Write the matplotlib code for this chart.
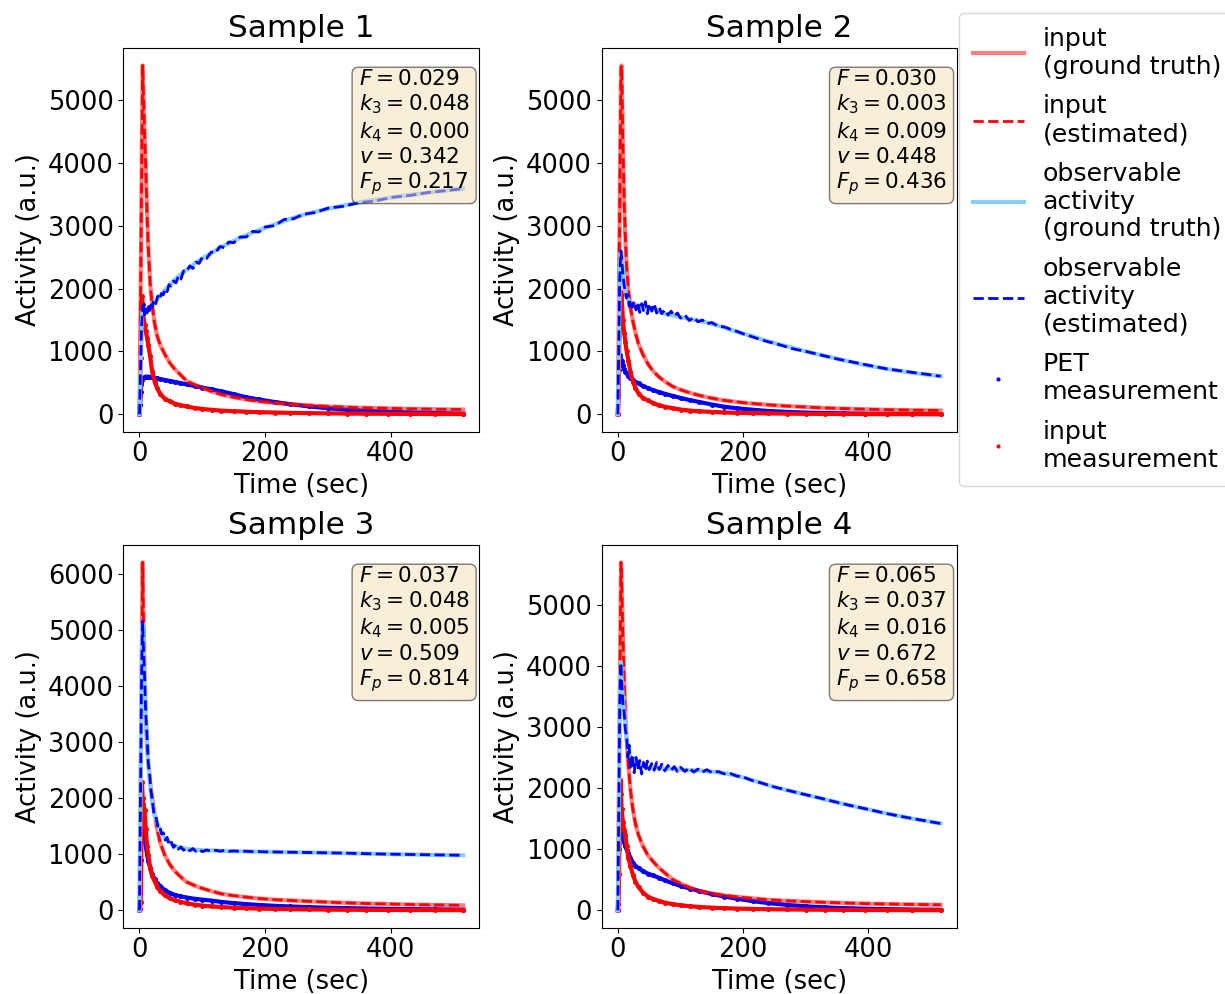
import matplotlib
matplotlib.use("Agg")
import matplotlib.pyplot as plt
from matplotlib.lines import Line2D

# ---------------- data ----------------
# coarse time grid (sec) for inputs, ground-truth activity and measurements
t = [0, 1, 2, 3, 4, 5, 6, 8, 10, 12, 14, 17, 20, 24, 28, 33, 40, 48, 56, 65,
     75, 88, 100, 115, 130, 150, 170, 190, 215, 240, 270, 300, 330, 360, 395,
     430, 470, 515]
# finer time grid (sec) for the (noisy) estimated observable activity
t_obs = [0, 1, 2, 3, 4, 5, 6, 7, 8, 10, 12, 14, 16, 18, 20, 23, 26, 29, 32, 35,
         38, 41, 44, 47, 50, 54, 58, 62, 66, 70, 75, 80, 85, 90, 95, 100, 107,
         114, 121, 128, 135, 142, 150, 160, 170, 180, 190, 200, 215, 230, 245,
         260, 280, 300, 325, 350, 375, 400, 430, 460, 490, 515]

sample_titles = ["Sample 1", "Sample 2", "Sample 3", "Sample 4"]
param_F = [0.029, 0.030, 0.037, 0.065]
param_k3 = [0.048, 0.003, 0.048, 0.037]
param_k4 = [0.000, 0.009, 0.005, 0.016]
param_v = [0.342, 0.448, 0.509, 0.672]
param_Fp = [0.217, 0.436, 0.814, 0.658]

# Sample 1
s1_input = [0, 1100, 2200, 3300, 4450, 5550, 5200, 4500, 3900, 3200, 2650, 2080,
            1750, 1450, 1250, 1100, 960, 820, 720, 630, 530, 470, 420, 360, 315,
            270, 235, 205, 180, 160, 140, 125, 112, 102, 94, 87, 80, 75]
s1_input_meas = [0, 300, 900, 1500, 1880, 1750, 1600, 1420, 1320, 1220, 1100, 920,
                 690, 520, 420, 320, 250, 205, 170, 145, 125, 100, 85, 70, 58, 48,
                 40, 33, 27, 22, 18, 14, 11, 9, 7, 5, 4, 3]
s1_pet_meas = [0, 150, 350, 480, 540, 570, 580, 590, 600, 600, 600, 595, 590, 580,
               570, 560, 545, 530, 515, 495, 475, 450, 425, 395, 365, 320, 270,
               235, 195, 160, 125, 95, 72, 54, 40, 28, 18, 10]
s1_obs_true = [0, 400, 900, 1300, 1550, 1650, 1680, 1660, 1650, 1660, 1680, 1710,
               1740, 1780, 1830, 1890, 1970, 2060, 2140, 2220, 2300, 2400, 2480,
               2570, 2660, 2760, 2850, 2930, 3020, 3110, 3200, 3270, 3330, 3390,
               3440, 3490, 3540, 3590]
s1_obs_est = [0, 420, 850, 1350, 1500, 1720, 1600, 1750, 1580, 1720, 1610, 1750,
              1650, 1780, 1700, 1820, 1760, 1880, 1830, 1920, 1900, 1990, 1950,
              2060, 2040, 2120, 2090, 2200, 2150, 2280, 2270, 2360, 2320, 2420,
              2400, 2500, 2480, 2580, 2570, 2670, 2650, 2740, 2730, 2820, 2820,
              2910, 2900, 2980, 3000, 3100, 3110, 3180, 3210, 3280, 3310, 3370,
              3390, 3450, 3480, 3530, 3560, 3590]

# Sample 2
s2_input = [0, 1100, 2200, 3300, 4400, 5500, 5550, 4300, 3400, 2800, 2350, 1950,
            1700, 1480, 1300, 1120, 950, 800, 690, 600, 520, 440, 390, 340, 300,
            255, 220, 195, 170, 150, 130, 115, 100, 90, 80, 72, 65, 60]
s2_input_meas = [0, 300, 900, 1500, 1800, 1940, 1900, 1500, 1300, 1150, 1000, 850,
                 680, 520, 420, 330, 260, 220, 180, 145, 120, 95, 75, 58, 47, 37,
                 29, 22, 17, 13, 10, 7, 5, 4, 3, 2, 2, 1]
s2_pet_meas = [0, 300, 700, 950, 900, 870, 850, 780, 720, 680, 650, 610, 580, 545,
               515, 490, 450, 415, 385, 355, 325, 290, 260, 225, 195, 155, 120,
               95, 72, 52, 38, 27, 20, 14, 10, 7, 5, 3]
s2_obs_true = [0, 700, 1500, 2100, 2450, 2580, 2550, 2300, 2080, 1950, 1870, 1810,
               1780, 1760, 1745, 1730, 1710, 1690, 1670, 1640, 1600, 1570, 1545,
               1515, 1490, 1440, 1380, 1310, 1240, 1160, 1080, 1000, 930, 860,
               780, 720, 660, 605]
s2_obs_est = [0, 750, 1450, 2150, 2400, 2600, 2480, 2350, 2250, 2050, 1950, 1850,
              1900, 1720, 1820, 1700, 1800, 1660, 1780, 1620, 1760, 1650, 1790,
              1600, 1760, 1640, 1760, 1610, 1700, 1600, 1660, 1580, 1640, 1560,
              1610, 1530, 1580, 1490, 1540, 1470, 1500, 1440, 1460, 1400, 1390,
              1350, 1320, 1280, 1230, 1180, 1140, 1100, 1040, 1000, 940, 880, 830,
              780, 720, 680, 640, 605]

# Sample 3
s3_input = [0, 1240, 2480, 3720, 4960, 6200, 5400, 4300, 3450, 2900, 2600, 2280,
            2030, 1720, 1450, 1200, 990, 820, 700, 600, 505, 440, 390, 340, 295,
            260, 235, 210, 190, 175, 160, 145, 132, 122, 112, 103, 96, 89]
s3_input_meas = [0, 30, 150, 1200, 2280, 2000, 1900, 1780, 1450, 1150, 980, 760,
                 620, 520, 420, 340, 270, 215, 180, 155, 125, 100, 85, 70, 58, 46,
                 37, 30, 24, 19, 15, 12, 10, 8, 6, 5, 4, 3]
s3_pet_meas = [0, 300, 900, 1500, 1870, 1700, 1500, 1300, 1150, 1000, 880, 760,
               650, 560, 490, 430, 360, 310, 275, 250, 228, 205, 190, 172, 150,
               128, 110, 95, 80, 68, 56, 46, 38, 32, 26, 21, 17, 13]
s3_obs_true = [0, 1200, 2500, 3800, 4700, 5100, 4800, 4150, 3550, 3050, 2650, 2220,
               1920, 1700, 1560, 1420, 1290, 1210, 1150, 1115, 1095, 1080, 1072,
               1066, 1060, 1055, 1050, 1045, 1040, 1035, 1030, 1025, 1018, 1010,
               1002, 995, 988, 980]
s3_obs_est = [0, 1250, 2450, 3850, 4650, 5150, 4750, 4500, 4200, 3500, 3100, 2620,
              2450, 2150, 2000, 1720, 1680, 1500, 1520, 1360, 1380, 1250, 1300,
              1180, 1230, 1120, 1170, 1090, 1130, 1070, 1110, 1060, 1100, 1050,
              1080, 1045, 1075, 1050, 1070, 1055, 1065, 1050, 1058, 1050, 1052,
              1045, 1046, 1042, 1040, 1036, 1034, 1031, 1028, 1025, 1019, 1012,
              1006, 1000, 995, 990, 985, 980]

# Sample 4
s4_input = [0, 1140, 2280, 3420, 4560, 5690, 5400, 4500, 3800, 3200, 2800, 2350,
            1980, 1650, 1420, 1230, 1050, 900, 800, 700, 610, 500, 440, 370, 318,
            275, 245, 220, 195, 172, 155, 142, 130, 120, 110, 102, 96, 90]
s4_input_meas = [0, 100, 600, 1500, 2130, 1900, 1650, 1450, 1320, 1230, 1050, 850,
                 730, 580, 470, 380, 290, 225, 185, 155, 125, 100, 82, 66, 54, 43,
                 35, 28, 22, 18, 14, 11, 9, 7, 5, 4, 3, 2]
s4_pet_meas = [0, 400, 1000, 1400, 1500, 1450, 1350, 1220, 1120, 1050, 990, 930,
               860, 780, 730, 690, 640, 600, 570, 535, 490, 440, 400, 355, 315,
               265, 225, 190, 150, 118, 88, 65, 48, 36, 26, 19, 13, 9]
s4_obs_true = [0, 1000, 2200, 3300, 3900, 4050, 3800, 3450, 3250, 3000, 2780, 2620,
               2500, 2420, 2380, 2360, 2350, 2345, 2340, 2330, 2320, 2310, 2300,
               2290, 2285, 2270, 2245, 2200, 2130, 2045, 1965, 1890, 1815, 1740,
               1660, 1580, 1500, 1420]
s4_obs_est = [0, 1050, 2150, 3350, 3850, 4050, 3750, 3600, 3400, 3250, 2950, 2850,
              2500, 2700, 2300, 2550, 2250, 2500, 2300, 2450, 2230, 2420, 2280,
              2440, 2300, 2400, 2290, 2420, 2300, 2390, 2280, 2370, 2290, 2350,
              2270, 2340, 2270, 2330, 2260, 2310, 2260, 2300, 2250, 2270, 2230,
              2235, 2195, 2180, 2120, 2080, 2030, 1990, 1940, 1890, 1830, 1765,
              1705, 1650, 1580, 1520, 1465, 1420]

samples = [
    (s1_input, s1_input, s1_obs_true, s1_obs_est, s1_pet_meas, s1_input_meas),
    (s2_input, s2_input, s2_obs_true, s2_obs_est, s2_pet_meas, s2_input_meas),
    (s3_input, s3_input, s3_obs_true, s3_obs_est, s3_pet_meas, s3_input_meas),
    (s4_input, s4_input, s4_obs_true, s4_obs_est, s4_pet_meas, s4_input_meas),
]

# ---------------- figure ----------------
plt.rcParams["font.family"] = ["DejaVu Sans"]
plt.rcParams["font.size"] = 18.5

W, H = 1225, 994
fig = plt.figure(figsize=(W / 100, H / 100), dpi=100)

boxes = [
    (123.3, 48.0, 479.3, 431.7),
    (601.7, 48.0, 956.7, 431.7),
    (123.3, 545.0, 479.3, 927.7),
    (601.7, 545.0, 956.7, 927.7),
]

c_in_true = (1.0, 0.0, 0.0, 0.5)
c_obs_true = "lightskyblue"

for i, (x0, y0, x1, y1) in enumerate(boxes):
    ax = fig.add_axes([x0 / W, 1 - y1 / H, (x1 - x0) / W, (y1 - y0) / H])
    in_true, in_est, obs_true, obs_est, pet_meas, in_meas = samples[i]

    ax.plot(t, pet_meas, color="blue", marker="o", ms=3.6, mew=0, lw=3.0, zorder=2)
    ax.plot(t, in_meas, color="red", marker="o", ms=3.6, mew=0, lw=3.0, zorder=2)
    ax.plot(t, in_true, color=c_in_true, lw=3.0, zorder=3)
    ax.plot(t, in_est, color="red", ls="--", lw=2.0, zorder=3)
    ax.plot(t, obs_true, color=c_obs_true, lw=3.0, zorder=3)
    ax.plot(t_obs, obs_est, color="blue", ls="--", lw=2.0, zorder=3)

    ax.set_title(sample_titles[i], fontsize=22.4, pad=8)
    ax.set_xlabel("Time (sec)")
    ax.set_ylabel("Activity (a.u.)")

    txt = "\n".join([
        r"$F = %.3f$" % param_F[i],
        r"$k_3 = %.3f$" % param_k3[i],
        r"$k_4 = %.3f$" % param_k4[i],
        r"$v = %.3f$" % param_v[i],
        r"$F_p = %.3f$" % param_Fp[i],
    ])
    ax.text(0.973, 0.945, txt, transform=ax.transAxes, ha="right", va="top",
            multialignment="left", fontsize=15.5, zorder=5,
            bbox=dict(boxstyle="round", facecolor="wheat", alpha=0.5))

handles = [
    Line2D([], [], color=c_in_true, lw=3.0),
    Line2D([], [], color="red", ls="--", lw=2.0),
    Line2D([], [], color=c_obs_true, lw=3.0),
    Line2D([], [], color="blue", ls="--", lw=2.0),
    Line2D([], [], color="blue", ls="none", marker="o", ms=3, mew=0),
    Line2D([], [], color="red", ls="none", marker="o", ms=3, mew=0),
]
labels = [
    "input\n(ground truth)",
    "input\n(estimated)",
    "observable\nactivity\n(ground truth)",
    "observable\nactivity\n(estimated)",
    "PET\nmeasurement",
    "input\nmeasurement",
]
fig.legend(handles, labels, loc="upper left", bbox_to_anchor=(959.3 / W, 1 - 13 / H),
           borderaxespad=0, fontsize=18.2, handletextpad=0.75,
           labelspacing=0.62, borderpad=0.55)

fig.savefig("out.png", dpi=100)
